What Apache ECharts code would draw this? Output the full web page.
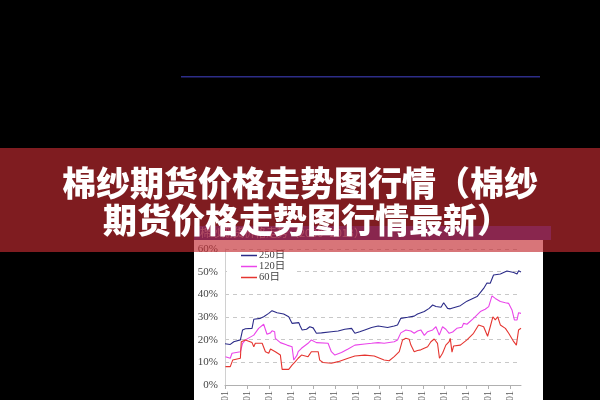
<!DOCTYPE html>
<html><head><meta charset="utf-8">
<script src="https://cdn.jsdelivr.net/npm/echarts@6/dist/echarts.min.js"></script>
<style>html,body{margin:0;padding:0;background:#000}#c{width:600px;height:400px}</style>
</head><body><div id="c"></div>
<script>
const titleLines = ['棉纱期货价格走势图行情（棉纱', '期货价格走势图行情最新）'];
const headerText = '棉纱期货价格走势（2000~2013）';
const seriesNames = ['250日', '120日', '60日'];
const xTickYears = [2000,2001,2002,2003,2004,2005,2006,2007,2008,2009,2010,2011,2012,2013];
const yTicks = [0,10,20,30,40,50,60];

const x250 = [2000.00,2000.24,2000.40,2000.70,2000.77,2000.80,2000.93,2001.23,2001.31,2001.61,2001.76,2001.99,2002.14,2002.37,2002.67,2002.90,2003.05,2003.36,2003.42,2003.51,2003.71,2003.86,2004.01,2004.16,2004.39,2004.84,2005.15,2005.45,2005.76,2005.91,2006.13,2006.36,2006.67,2006.97,2007.40,2007.70,2007.85,2008.00,2008.31,2008.61,2008.76,2009.07,2009.29,2009.45,2009.60,2009.83,2009.95,2010.13,2010.25,2010.36,2010.71,2011.01,2011.47,2011.77,2011.92,2012.07,2012.22,2012.53,2012.83,2013.14,2013.29,2013.36,2013.47];
const v250 = [18.2,17.9,19.1,19.9,19.9,24.3,24.8,25.0,29.0,29.4,30.1,31.6,32.8,31.9,31.3,30.1,27.2,27.5,26.0,24.3,24.6,25.7,25.2,22.8,23.0,23.5,23.8,24.6,25.0,22.8,23.5,24.3,25.4,26.0,25.4,26.0,26.5,29.4,29.9,30.4,31.3,32.4,33.8,35.3,34.6,34.3,36.3,33.8,33.6,34.0,35.0,37.0,39.0,42.6,45.0,44.9,48.5,49.0,50.3,49.6,49.0,50.4,49.9];

const x120 = [2000.02,2000.24,2000.32,2000.70,2000.80,2000.93,2001.31,2001.53,2001.76,2001.84,2001.91,2002.07,2002.14,2002.26,2002.29,2002.52,2002.82,2003.05,2003.13,2003.28,2003.33,2003.48,2003.78,2003.93,2004.16,2004.69,2004.84,2005.00,2005.30,2005.60,2005.91,2006.36,2006.67,2006.97,2007.24,2007.70,2007.85,2008.00,2008.23,2008.46,2008.61,2008.76,2008.91,2009.07,2009.22,2009.45,2009.60,2009.75,2009.90,2010.05,2010.20,2010.36,2010.55,2010.78,2010.86,2011.01,2011.31,2011.62,2011.84,2012.00,2012.15,2012.30,2012.53,2012.76,2012.91,2013.06,2013.17,2013.29,2013.36,2013.47];
const v120 = [12.5,11.8,14.0,14.7,18.4,19.9,22.0,25.0,26.8,26.5,22.4,23.0,23.9,23.5,20.6,18.7,17.6,16.9,11.0,13.2,14.7,16.2,18.4,19.9,18.7,18.4,14.7,13.2,14.3,15.9,17.6,18.1,18.4,18.7,18.4,19.1,19.9,23.0,24.3,23.8,22.8,23.8,24.3,21.9,23.5,24.3,25.7,22.0,25.7,24.6,22.8,23.4,25.0,25.5,27.2,26.8,29.4,32.4,33.4,34.6,39.3,38.2,36.8,36.3,36.0,33.1,28.7,28.7,31.9,31.6];

const x60 = [2000.02,2000.24,2000.35,2000.70,2000.74,2000.93,2001.23,2001.31,2001.38,2001.69,2001.84,2001.99,2002.07,2002.29,2002.52,2002.60,2002.90,2003.05,2003.20,2003.33,2003.48,2003.78,2003.93,2004.24,2004.31,2004.46,2004.84,2005.15,2005.60,2005.91,2006.36,2006.79,2007.24,2007.47,2007.70,2007.93,2008.08,2008.23,2008.38,2008.46,2008.61,2008.76,2008.91,2009.22,2009.37,2009.52,2009.67,2009.76,2009.90,2010.05,2010.20,2010.25,2010.33,2010.40,2010.71,2011.01,2011.31,2011.54,2011.77,2011.95,2012.07,2012.19,2012.30,2012.41,2012.53,2012.76,2012.91,2013.14,2013.26,2013.36,2013.47];
const v60 = [8.1,8.1,11.0,11.8,19.1,19.9,18.7,16.9,18.4,18.4,14.7,14.0,15.9,14.7,13.2,6.9,6.9,8.8,10.3,11.8,13.2,12.5,14.7,14.7,11.0,9.9,9.6,10.3,11.8,12.8,13.2,12.8,11.0,10.7,12.5,14.7,19.9,20.6,20.2,17.6,14.7,15.2,15.5,16.9,19.1,20.3,18.4,11.8,14.0,17.6,19.1,20.6,14.5,17.2,17.6,19.9,22.8,26.5,25.7,21.5,25.7,30.1,28.7,30.1,26.5,25.0,22.8,19.1,17.6,24.3,25.0];

const pair = (xs, vs) => xs.map((x, i) => [x, vs[i]]);
const serifFont = "'Liberation Serif','DejaVu Serif','Noto Sans CJK SC',serif";

const chart = echarts.init(document.getElementById('c'));
chart.setOption({
  animation: false,
  backgroundColor: '#000',
  grid: { left: 225, right: 79, top: 249, bottom: 15, containLabel: false, outerBoundsMode: 'none' },
  legend: {
    data: seriesNames, orient: 'vertical', left: 227, top: 250,
    backgroundColor: '#fff', padding: [0, 8, 3, 14], itemGap: 0,
    itemWidth: 16, itemHeight: 1.5, icon: 'rect',
    textStyle: { fontFamily: serifFont, fontSize: 10.5, color: '#444', lineHeight: 11, padding: [0, 0, 0, -3] }
  },
  xAxis: {
    type: 'value', min: xTickYears[0], max: x250[x250.length - 1],
    axisLine: { lineStyle: { color: '#b0b0b0' } },
    axisTick: { show: true, length: 4, customValues: xTickYears, lineStyle: { color: '#b0b0b0' } },
    axisLabel: { customValues: xTickYears, rotate: 90, margin: 6, fontFamily: serifFont, fontSize: 10, color: '#555',
      formatter: v => v + '-01' },
    splitLine: { show: false }
  },
  yAxis: {
    type: 'value', min: yTicks[0], max: yTicks[yTicks.length - 1], interval: 10,
    axisLine: { show: true, lineStyle: { color: '#d0d0d0' } },
    axisTick: { show: false },
    axisLabel: { formatter: '{value}%', fontFamily: serifFont, fontSize: 11, color: '#444', margin: 7 },
    splitLine: { show: true, lineStyle: { type: [4, 4], color: '#c8c8c8', width: 1 } }
  },
  series: [
    { name: seriesNames[0], type: 'line', showSymbol: false, data: pair(x250, v250), color: '#2b2b88', lineStyle: { width: 1.1 } },
    { name: seriesNames[1], type: 'line', showSymbol: false, data: pair(x120, v120), color: '#ea45ea', lineStyle: { width: 1.1 } },
    { name: seriesNames[2], type: 'line', showSymbol: false, data: pair(x60, v60), color: '#e53530', lineStyle: { width: 1.1 } }
  ],
  graphic: [
    { type: 'rect', z: -20, shape: { x: 181, y: 76, width: 359, height: 1.5 }, style: { fill: '#2d2d88' } },
    { type: 'rect', z: -20, shape: { x: 194, y: 240, width: 349, height: 160 }, style: { fill: '#ffffff' } },
    { type: 'rect', z: -20, shape: { x: 194, y: 226, width: 357, height: 14 }, style: { fill: '#1f1d84' } },
    { type: 'text', z: -19, x: 200, y: 233, style: { text: headerText, fill: 'rgba(255,255,255,0.5)', font: '11px "Noto Sans CJK SC"', textVerticalAlign: 'middle' } },
    { type: 'rect', z: 100, shape: { x: 0, y: 148, width: 600, height: 104 }, style: { fill: 'rgba(195,43,49,0.65)' } },
    { type: 'text', z: 101, x: 300, y: 183, style: { text: titleLines[0], fill: '#fff', font: '900 34px "Noto Sans CJK SC"', textAlign: 'center', textVerticalAlign: 'middle' } },
    { type: 'text', z: 101, x: 307, y: 220, style: { text: titleLines[1], fill: '#fff', font: '900 34px "Noto Sans CJK SC"', textAlign: 'center', textVerticalAlign: 'middle' } }
  ]
});
</script>
</body></html>
